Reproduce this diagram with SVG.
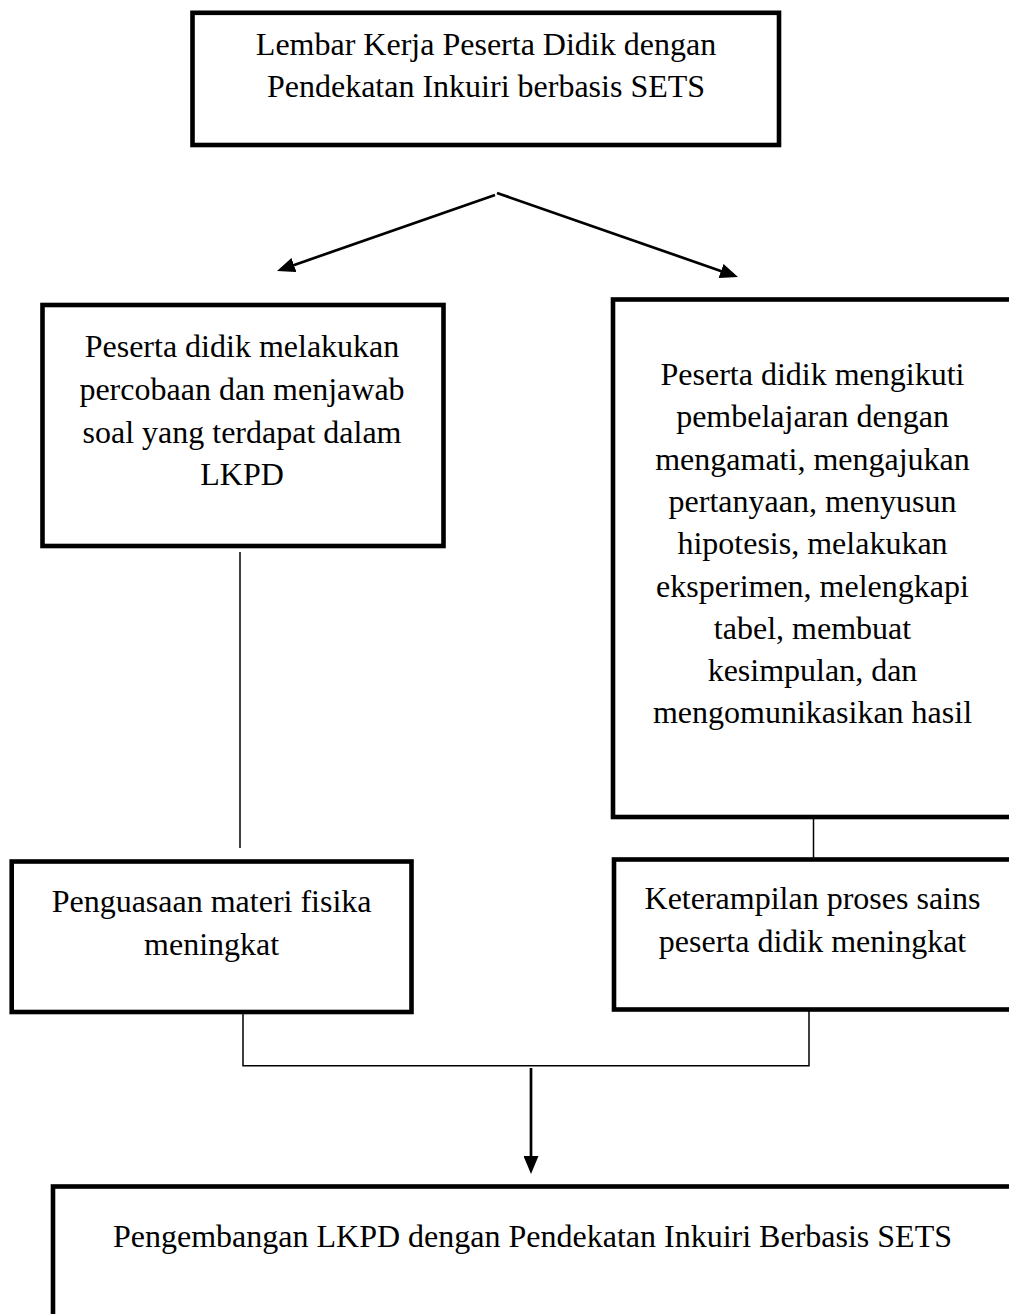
<svg xmlns="http://www.w3.org/2000/svg" width="1009" height="1314" viewBox="0 0 1009 1314">
  <style>
    .box { fill: #ffffff; stroke: #000000; stroke-width: 4.6; }
    .t { font-family: "Liberation Serif", "Times New Roman", serif; font-size: 32px; fill: #000000; text-anchor: middle; }
    .thin { stroke: #000000; stroke-width: 1.5; fill: none; }
    .arr { stroke: #000000; stroke-width: 2.7; fill: none; }
  </style>
  <defs>
    <marker id="ah" markerUnits="userSpaceOnUse" markerWidth="18" markerHeight="15" refX="2" refY="7.5" orient="auto">
      <path d="M0,0 L18,7.5 L0,15 z" fill="#000000"/>
    </marker>
  </defs>
  <rect width="1009" height="1314" fill="#ffffff"/>

  <g id="connectors">
    <line class="arr" x1="495" y1="195" x2="292.1" y2="265.7" marker-end="url(#ah)"/>
    <line class="arr" x1="497" y1="193" x2="722.9" y2="271.7" marker-end="url(#ah)"/>
    <line class="thin" x1="240" y1="552" x2="240" y2="848"/>
    <line class="thin" x1="813.5" y1="819" x2="813.5" y2="858"/>
    <polyline class="thin" points="243,1010 243,1065.7 809,1065.7 809,1011"/>
    <line class="arr" x1="531" y1="1068" x2="531" y2="1158" marker-end="url(#ah)"/>
  </g>

  <g id="node-lkpd">
    <rect class="box" x="192.5" y="12.8" width="586.5" height="132.2"/>
    <text class="t" x="486" y="55">Lembar Kerja Peserta Didik dengan</text>
    <text class="t" x="486" y="97">Pendekatan Inkuiri berbasis SETS</text>
  </g>

  <g id="node-percobaan">
    <rect class="box" x="42.5" y="305" width="401" height="241"/>
    <text class="t" x="242" y="357">Peserta didik melakukan</text>
    <text class="t" x="242" y="400">percobaan dan menjawab</text>
    <text class="t" x="242" y="443">soal yang terdapat dalam</text>
    <text class="t" x="242" y="485">LKPD</text>
  </g>

  <g id="node-pembelajaran">
    <rect class="box" x="613" y="299.5" width="400" height="517.5"/>
    <text class="t" x="812.5" y="385">Peserta didik mengikuti</text>
    <text class="t" x="812.5" y="427.3">pembelajaran dengan</text>
    <text class="t" x="812.5" y="469.6">mengamati, mengajukan</text>
    <text class="t" x="812.5" y="511.9">pertanyaan, menyusun</text>
    <text class="t" x="812.5" y="554.2">hipotesis, melakukan</text>
    <text class="t" x="812.5" y="596.5">eksperimen, melengkapi</text>
    <text class="t" x="812.5" y="638.8">tabel, membuat</text>
    <text class="t" x="812.5" y="681.1">kesimpulan, dan</text>
    <text class="t" x="812.5" y="723.4">mengomunikasikan hasil</text>
  </g>

  <g id="node-penguasaan">
    <rect class="box" x="11.7" y="861.5" width="399.8" height="150.5"/>
    <text class="t" x="211.6" y="912">Penguasaan materi fisika</text>
    <text class="t" x="211.6" y="955">meningkat</text>
  </g>

  <g id="node-keterampilan">
    <rect class="box" x="614" y="859.5" width="398" height="150"/>
    <text class="t" x="812.5" y="909">Keterampilan proses sains</text>
    <text class="t" x="812.5" y="952">peserta didik meningkat</text>
  </g>

  <g id="node-pengembangan">
    <rect class="box" x="53" y="1186.5" width="959" height="150"/>
    <text class="t" x="532.5" y="1247">Pengembangan LKPD dengan Pendekatan Inkuiri Berbasis SETS</text>
  </g>
</svg>
